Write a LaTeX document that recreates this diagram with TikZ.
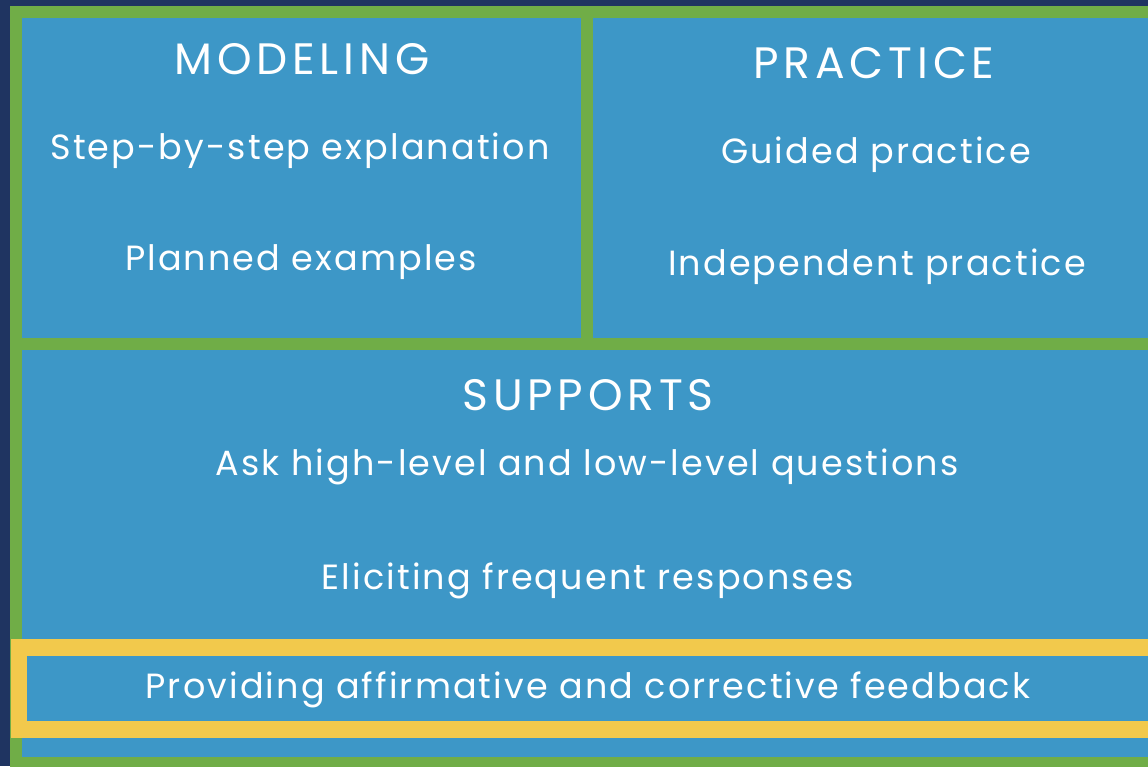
\documentclass[tikz,border=0pt]{standalone}
\usepackage{fontspec}
\setmainfont{Poppins}
\usepackage{tikz}
\definecolor{navy}{HTML}{1F3461}
\definecolor{framegreen}{HTML}{70AD47}
\definecolor{cellblue}{HTML}{3D97C7}
\definecolor{markyellow}{HTML}{F2C94C}
\tikzset{
	heading/.style={anchor=base, text=white, font=\fontsize{44}{50}\selectfont\addfontfeature{LetterSpace=11}},
	item/.style={anchor=base, text=white, font=\fontsize{35}{41}\selectfont\addfontfeature{LetterSpace=6}}
}

\begin{document}
\begin{tikzpicture}[x=1pt,y=-1pt]
			\useasboundingbox (0,0) rectangle (1148,766);
			\clip (0,0) rectangle (1148,766);
			% background and frame
			\fill[navy] (0,0) rectangle (1148,766);
			\fill[framegreen] (10,6) rectangle (1160,780);
			\fill[cellblue] (22,18) rectangle (581,338);
			\fill[cellblue] (593,18) rectangle (1160,338);
			\fill[cellblue] (22,350) rectangle (1160,757);
			\draw[markyellow, line width=16.5pt] (19,647.25) rectangle (1175,729.5);
			% texts
			\node[heading] (modeling) at (302,74) {MODELING};
			\node[item] (explain) at (300,159) {Step-by-step explanation};
			\node[item] (examples) at (301,270) {Planned examples};
			\node[heading] (practice) at (874,78) {PRACTICE};
			\node[item] (guided) at (876,163) {Guided practice};
			\node[item] (indep) at (877,275) {Independent practice};
			\node[heading] (supports) at (588,410) {SUPPORTS};
			\node[item] (ask) at (587,475) {Ask high-level and low-level questions};
			\node[item] (elicit) at (588,589) {Eliciting frequent responses};
			\node[item] (feedback) at (588,698) {Providing affirmative and corrective feedback};
		\end{tikzpicture}
\end{document}
